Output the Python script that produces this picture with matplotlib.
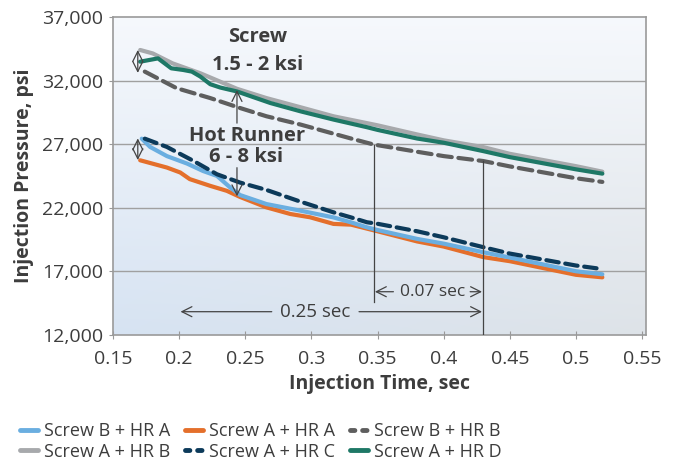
import matplotlib
matplotlib.use("Agg")
import matplotlib.pyplot as plt
import numpy as np
from matplotlib.lines import Line2D

plt.rcParams['font.family'] = ['Open Sans', 'DejaVu Sans']

# Screw B + HR A (light blue)
x_bA = [0.1717, 0.178, 0.1907, 0.206, 0.218, 0.2286, 0.2386, 0.246, 0.266, 0.2917, 0.3167, 0.33, 0.342, 0.35, 0.38, 0.40, 0.43, 0.45, 0.50, 0.52]
y_bA = [27430, 26780, 26060, 25470, 24890, 24500, 23590, 23000, 22290, 21770, 21240, 20850, 20460, 20250, 19550, 19180, 18500, 18090, 17010, 16770]
# Screw A + HR A (orange)
x_aA = [0.1705, 0.1907, 0.2008, 0.208, 0.2235, 0.236, 0.246, 0.266, 0.284, 0.299, 0.3167, 0.33, 0.35, 0.38, 0.40, 0.43, 0.45, 0.50, 0.52]
y_aA = [25730, 25160, 24770, 24250, 23720, 23330, 22850, 22030, 21510, 21250, 20730, 20670, 20150, 19350, 18950, 18120, 17800, 16730, 16530]
# Screw B + HR B (dark gray dashed)
x_bB = [0.174, 0.198, 0.2235, 0.246, 0.266, 0.2917, 0.33, 0.347, 0.38, 0.40, 0.43, 0.45, 0.50, 0.52]
y_bB = [32700, 31400, 30620, 29840, 29190, 28540, 27440, 26970, 26400, 26060, 25670, 25250, 24320, 24030]
# Screw A + HR B (light gray)
x_aB = [0.1705, 0.180, 0.195, 0.216, 0.2437, 0.266, 0.2917, 0.3167, 0.35, 0.38, 0.40, 0.43, 0.45, 0.50, 0.52]
y_aB = [34400, 34130, 33350, 32570, 31350, 30620, 29900, 29190, 28480, 27760, 27300, 26766, 26240, 25270, 24836]
# Screw A + HR C (navy dashed)
x_aC = [0.174, 0.1907, 0.211, 0.2286, 0.246, 0.266, 0.2917, 0.3167, 0.33, 0.342, 0.35, 0.38, 0.40, 0.43, 0.45, 0.50, 0.52]
y_aC = [27430, 26780, 25670, 24630, 23980, 23400, 22480, 21640, 21240, 20860, 20740, 20150, 19680, 18900, 18400, 17460, 17180]
# Screw A + HR D (green)
x_aD = [0.1705, 0.184, 0.194, 0.203, 0.2096, 0.216, 0.2235, 0.231, 0.2437, 0.269, 0.2917, 0.3167, 0.342, 0.35, 0.38, 0.40, 0.43, 0.45, 0.50, 0.52]
y_aD = [33480, 33740, 32960, 32830, 32700, 32310, 31710, 31450, 31140, 30230, 29580, 28930, 28330, 28120, 27440, 27110, 26450, 25980, 25020, 24680]

x_ticks = [0.15, 0.2, 0.25, 0.3, 0.35, 0.4, 0.45, 0.5, 0.55]
y_ticks = [12000, 17000, 22000, 27000, 32000, 37000]

txt = '#3d3d3d'
fig = plt.figure(figsize=(6.77, 4.63), dpi=100)
ax = fig.add_axes([0.167, 0.2765, 0.787, 0.687])

# gradient background
gx = np.linspace(0, 1, 200)
gy = np.linspace(0, 1, 200)
GX, GY = np.meshgrid(gx, gy)
c_top = np.array([0.965, 0.975, 0.99])
c_bl = np.array([0.84, 0.89, 0.95])
c_br = np.array([0.87, 0.89, 0.91])
w_top = GY[..., None]
bottom = c_bl * (1 - GX[..., None]) + c_br * GX[..., None]
img = bottom * (1 - w_top) + c_top * w_top
ax.imshow(img, extent=[0, 1, 0, 1], transform=ax.transAxes, origin='lower', aspect='auto', zorder=0)

for yv in y_ticks[1:-1]:
    ax.axhline(yv, color='#a0a0a0', lw=1, zorder=1)

lw = 3.0
ax.plot(x_aB, y_aB, color='#a7a9ac', lw=lw, solid_capstyle='round', zorder=3)
ax.plot(x_aD, y_aD, color='#1e7866', lw=lw, solid_capstyle='round', zorder=4)
ax.plot(x_bB, y_bB, color='#5e5e5e', lw=lw, dashes=(3.3, 1.6), dash_capstyle='round', zorder=4)
ax.plot(x_aA, y_aA, color='#e46f2b', lw=lw, solid_capstyle='round', zorder=3)
ax.plot(x_bA, y_bA, color='#6aaee0', lw=lw, solid_capstyle='round', zorder=4)
ax.plot(x_aC, y_aC, color='#0c3a5a', lw=lw, dashes=(3, 1.6), dash_capstyle='round', zorder=5)

ap = dict(arrowstyle='->', color='#444444', lw=0.9, mutation_scale=18, shrinkA=0, shrinkB=0)
ap2 = dict(arrowstyle='<->', color='#444444', lw=0.9, mutation_scale=18, shrinkA=0, shrinkB=0)

# double arrows at start
ax.annotate('', xy=(0.1687, 34400), xytext=(0.1687, 32600), arrowprops=ap2, zorder=6)
ax.annotate('', xy=(0.1687, 27450), xytext=(0.1687, 25750), arrowprops=ap2, zorder=6)
# arrows to text
ax.annotate('', xy=(0.2437, 31250), xytext=(0.2437, 28650), arrowprops=ap, zorder=6)
ax.annotate('', xy=(0.2437, 22900), xytext=(0.2437, 25150), arrowprops=ap, zorder=6)

bold = dict(ha='center', va='center', fontsize=14.5, fontweight='bold', color=txt, zorder=7)
ax.text(0.2596, 35430, 'Screw', **bold)
ax.text(0.2596, 33230, '1.5 - 2 ksi', **bold)
ax.text(0.2517, 27620, 'Hot Runner', **bold)
ax.text(0.2505, 25950, '6 - 8 ksi', **bold)

# vertical markers
ax.plot([0.347, 0.347], [26970, 14620], color='#444444', lw=0.9, zorder=6)
ax.plot([0.430, 0.430], [25670, 12000], color='#444444', lw=0.9, zorder=6)

ax.annotate('', xy=(0.348, 15400), xytext=(0.362, 15400), arrowprops=ap, zorder=6)
ax.annotate('', xy=(0.429, 15400), xytext=(0.420, 15400), arrowprops=ap, zorder=6)
ax.text(0.3915, 15400, '0.07 sec', ha='center', va='center', fontsize=12.5, color=txt, zorder=7)

ax.annotate('', xy=(0.201, 13830), xytext=(0.27, 13830), arrowprops=ap, zorder=6)
ax.annotate('', xy=(0.429, 13830), xytext=(0.336, 13830), arrowprops=ap, zorder=6)
ax.text(0.303, 13830, '0.25 sec', ha='center', va='center', fontsize=13.5, color=txt, zorder=7)

ax.set_xlim(0.15, 0.5529)
ax.set_ylim(12000, 37000)
ax.set_xticks(x_ticks)
ax.set_xticklabels([f'{v:g}' for v in x_ticks])
ax.set_yticks(y_ticks)
ax.set_yticklabels([f'{v:,}' for v in y_ticks])
ax.tick_params(axis='both', colors='#999999', labelcolor=txt, labelsize=14)
ax.tick_params(axis='x', direction='inout', length=6, pad=8)
ax.tick_params(axis='y', length=3, pad=4)
for s in ax.spines.values():
    s.set_color('#9a9a9a')
    s.set_linewidth(1.2)

ax.set_xlabel('Injection Time, sec', fontsize=14, fontweight='bold', color=txt, labelpad=4)
ax.set_ylabel('Injection Pressure, psi', fontsize=14, fontweight='bold', color=txt)
ax.yaxis.set_label_coords(-0.148, 0.5)

handles = [
    Line2D([], [], color='#6aaee0', lw=3.5, solid_capstyle='round'),
    Line2D([], [], color='#a7a9ac', lw=3.5, solid_capstyle='round'),
    Line2D([], [], color='#e46f2b', lw=3.5, solid_capstyle='round'),
    Line2D([], [], color='#0c3a5a', lw=3.5, dashes=(0.9, 1.6), dash_capstyle='round'),
    Line2D([], [], color='#5e5e5e', lw=3.5, dashes=(0.9, 1.6), dash_capstyle='round'),
    Line2D([], [], color='#1e7866', lw=3.5, solid_capstyle='round'),
]
labels = ['Screw B + HR A', 'Screw A + HR B', 'Screw A + HR A', 'Screw A + HR C',
          'Screw B + HR B', 'Screw A + HR D']
leg = fig.legend(handles, labels, ncol=3, loc='lower left', bbox_to_anchor=(0.005, -0.03),
                 frameon=False, fontsize=13, handlelength=1.0, handletextpad=0.35,
                 columnspacing=0.8, labelspacing=0.14, labelcolor=txt)

fig.savefig('out.png', dpi=100)
